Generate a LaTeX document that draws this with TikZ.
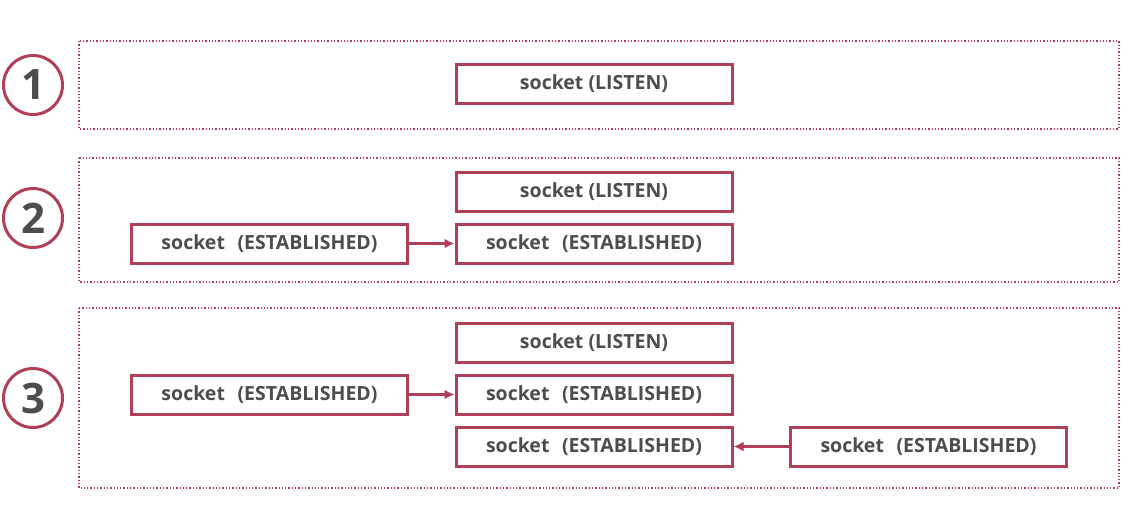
\documentclass[tikz,border=0pt]{standalone}
\usepackage{fontspec}
\setmainfont{Open Sans}
\usetikzlibrary{arrows.meta}
\definecolor{sockred}{HTML}{B04058}
\definecolor{sockgray}{HTML}{4D4D4D}
\begin{document}
\begin{tikzpicture}[x=1pt,y=-1pt,
    sockbox/.style={draw=sockred,line width=3pt,minimum width=276pt,minimum height=39pt,
      inner sep=0pt,text=sockgray,font=\fontsize{19.5}{22}\selectfont\bfseries},
    panel/.style={draw=sockred,line width=1.3pt,dotted},
    numcircle/.style={circle,draw=sockred,line width=3pt,minimum size=59pt,inner sep=0pt,
      text=sockgray,font=\fontsize{42}{46}\selectfont\bfseries},
    sockarrow/.style={draw=sockred,line width=3pt,-{Latex[length=10pt,width=10pt]}}]
    \useasboundingbox (0,0) rectangle (1142,504);
    \fill[white] (0,0) rectangle (1142,504);
    \draw[panel] (79,41) rectangle (1119,129);
    \draw[panel] (79,158) rectangle (1119,282);
    \draw[panel] (79,308) rectangle (1119,488);
    \node[numcircle] (one) at (33,85) {1};
    \node[numcircle] (two) at (33,218) {2};
    \node[numcircle] (three) at (33,398) {3};
    % panel 1
    \node[sockbox] (listenA) at (594,84) {socket (LISTEN)};
    % panel 2
    \node[sockbox] (listenB) at (594,191.5) {socket (LISTEN)};
    \node[sockbox] (servB) at (594,243.5) {socket\hspace{0.65em}(ESTABLISHED)\hspace{14pt}};
    \node[sockbox] (cliB) at (269.5,243.5) {socket\hspace{0.65em}(ESTABLISHED)\hspace{14pt}};
    \draw[sockarrow] (cliB) -- (servB);
    % panel 3
    \node[sockbox] (listenC) at (594,343) {socket (LISTEN)};
    \node[sockbox] (servC) at (594,394.5) {socket\hspace{0.65em}(ESTABLISHED)\hspace{14pt}};
    \node[sockbox] (servD) at (594,446.5) {socket\hspace{0.65em}(ESTABLISHED)\hspace{14pt}};
    \node[sockbox] (cliC) at (269.5,394.5) {socket\hspace{0.65em}(ESTABLISHED)\hspace{14pt}};
    \node[sockbox] (cliD) at (928.5,446.5) {socket\hspace{0.65em}(ESTABLISHED)\hspace{14pt}};
    \draw[sockarrow] (cliC) -- (servC);
    \draw[sockarrow] (cliD) -- (servD);
\end{tikzpicture}
\end{document}
